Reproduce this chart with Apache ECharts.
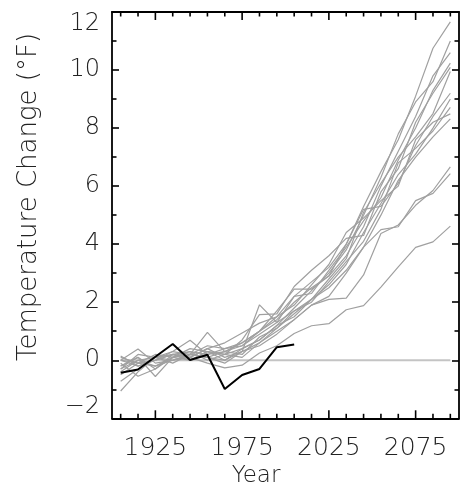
<!DOCTYPE html>
<html>
<head>
<meta charset="utf-8">
<script src="https://cdn.jsdelivr.net/npm/echarts@6/dist/echarts.min.js"></script>
<style>
html,body{margin:0;padding:0;background:#fff;}
#chart{width:462px;height:496px;}
</style>
</head>
<body>
<div id="chart"></div>
<script>
// ---- data ----
const years = [1905,1915,1925,1935,1945,1955,1965,1975,1985,1995,2005,2015,2025,2035,2045,2055,2065,2075,2085,2095];
const run01 = [0.1,-0.1,0.0,0.2,0.3,0.2,0.4,0.5,1.0,1.5,2.2,2.7,3.2,4.0,5.3,6.5,7.6,9.1,10.75,11.66];
const run02 = [-0.4,0.0,-0.2,0.1,0.0,0.3,0.2,0.4,0.7,1.2,1.8,2.4,3.0,3.8,5.0,6.3,7.8,8.9,9.6,11.0];
const run03 = [0.0,0.39,-0.1,0.0,0.2,0.1,0.3,0.6,1.0,1.4,2.0,2.5,2.9,3.6,4.6,6.0,7.2,8.4,9.8,10.6];
const run04 = [-0.72,-0.3,0.1,0.2,0.1,0.4,0.1,0.3,1.91,1.3,2.2,2.3,3.1,3.9,4.8,5.6,6.9,8.0,9.3,10.24];
const run05 = [-0.2,0.1,-0.56,0.1,0.3,0.0,0.2,0.7,1.57,1.6,2.54,3.1,3.6,4.2,4.3,5.8,6.6,8.2,9.2,10.09];
const run06 = [0.15,-0.2,0.0,0.3,0.69,0.2,0.3,0.2,0.8,1.1,1.6,2.1,2.6,3.3,4.4,5.4,6.4,7.1,8.0,9.0];
const run07 = [-1.06,-0.4,0.1,0.0,0.2,0.96,0.3,0.5,0.9,1.3,1.7,2.0,2.7,3.4,4.1,5.2,6.8,7.3,7.9,8.71];
const run08 = [-0.1,-0.55,-0.3,0.2,0.1,0.4,0.6,0.94,1.28,1.5,1.9,2.6,3.3,4.4,4.9,5.5,6.0,7.6,8.2,8.49];
const run09 = [-0.3,0.2,0.1,-0.1,0.2,0.1,-0.1,0.3,0.6,1.0,1.4,1.9,2.2,3.0,3.9,5.0,6.2,7.0,7.7,8.32];
const run10 = [0.0,-0.1,0.2,0.1,0.4,0.3,0.0,0.4,0.7,1.2,1.5,2.1,2.8,3.5,5.1,6.1,7.0,7.7,8.5,9.95];
const run11 = [-0.3,0.0,0.1,0.3,0.2,0.5,0.4,0.6,1.0,1.7,2.45,2.45,2.9,4.0,5.2,5.3,6.1,7.4,8.4,9.2];
const run12 = [-0.2,0.1,-0.3,0.1,0.2,0.1,0.0,0.3,0.5,0.9,1.4,1.9,2.1,2.14,2.94,4.37,4.66,5.34,5.85,6.66];
const run13 = [0.0,-0.2,0.0,0.2,0.0,0.3,0.2,0.1,0.6,1.1,1.7,2.1,2.5,3.1,3.9,4.5,4.6,5.5,5.75,6.43];
const run14 = [-0.5,-0.1,-0.2,0.0,0.1,-0.1,-0.26,-0.17,0.25,0.5,0.92,1.19,1.26,1.74,1.88,2.52,3.22,3.89,4.08,4.62];
const obsYears = [1905,1915,1925,1935,1945,1955,1965,1975,1985,1995,2005];
const observed = [-0.43,-0.32,0.12,0.56,0.01,0.19,-0.99,-0.51,-0.30,0.45,0.54];
const zeroYears = [1905,2095];
const zeroValues = [0,0];
const xLabelYears = [1925,1975,2025,2075];
const majorTickYears = [1925,1975,2025,2075];
const minorTickYears = [1905,1915,1935,1945,1955,1965,1985,1995,2005,2015,2035,2045,2055,2065,2085,2095];
const yTitle = 'Temperature Change (°F)';
const xTitle = 'Year';

const runs = [run01,run02,run03,run04,run05,run06,run07,run08,run09,run10,run11,run12,run13,run14];

// ---- chart ----
const FONT = 'DejaVu Sans';
const chart = echarts.init(document.getElementById('chart'));
const X_MIN = 1900, X_MAX = 2100, Y_MIN = -2, Y_MAX = 12;

const series = [];
series.push({
  type: 'line', data: zeroYears.map((y, i) => [y, zeroValues[i]]),
  symbol: 'none', silent: true, z: 1,
  lineStyle: { color: '#c4c4c4', width: 2 }
});
runs.forEach(r => series.push({
  type: 'line', data: years.map((y, i) => [y, r[i]]),
  symbol: 'none', silent: true, z: 2,
  lineStyle: { color: '#a0a0a0', width: 1.2 }
}));
series.push({
  type: 'line', data: obsYears.map((y, i) => [y, observed[i]]),
  symbol: 'none', silent: true, z: 3,
  lineStyle: { color: '#000', width: 2 }
});
const tickData = majorTickYears.map(y => [y, 1]).concat(minorTickYears.map(y => [y, 0]));
series.push({
  type: 'custom', silent: true, z: 5, clip: false,
  data: tickData,
  renderItem: function (params, api) {
    const x = api.value(0);
    const len = api.value(1) ? 8 : 4.5;
    const b = api.coord([x, Y_MIN]);
    const t = api.coord([x, Y_MAX]);
    const st = { stroke: '#000', lineWidth: 1.6 };
    return { type: 'group', children: [
      { type: 'line', shape: { x1: b[0], y1: b[1], x2: b[0], y2: b[1] - len }, style: st },
      { type: 'line', shape: { x1: t[0], y1: t[1], x2: t[0], y2: t[1] + len }, style: st }
    ]};
  }
});

const yAxisCommon = {
  type: 'value', min: Y_MIN, max: Y_MAX, interval: 2,
  axisLine: { show: true, lineStyle: { color: '#000', width: 1.8 } },
  axisTick: { show: true, inside: true, length: 7, lineStyle: { color: '#000', width: 1.6 } },
  minorTick: { show: true, splitNumber: 2, length: 4.5, lineStyle: { color: '#000', width: 1.6 } },
  splitLine: { show: false }, minorSplitLine: { show: false }
};

chart.setOption({
  animation: false,
  backgroundColor: '#fff',
  grid: { left: 112, right: 1.5, top: 12, bottom: 77.7, containLabel: false },
  xAxis: [{
    type: 'value', min: X_MIN, max: X_MAX, interval: 25, position: 'bottom',
    axisLine: { show: true, onZero: false, lineStyle: { color: '#000', width: 1.8 } },
    axisTick: { show: false },
    splitLine: { show: false },
    axisLabel: {
      margin: 18, fontFamily: FONT, fontSize: 25, fontWeight: 200, color: '#222',
      formatter: v => xLabelYears.indexOf(v) >= 0 ? String(v) : ''
    }
  }, {
    type: 'value', min: X_MIN, max: X_MAX, position: 'top',
    axisLine: { show: true, onZero: false, lineStyle: { color: '#000', width: 1.8 } },
    axisTick: { show: false }, axisLabel: { show: false }, splitLine: { show: false }
  }],
  yAxis: [Object.assign({}, yAxisCommon, {
    position: 'left',
    axisLabel: {
      margin: 12, fontFamily: FONT, fontSize: 24, fontWeight: 200, color: '#222',
      verticalAlignMaxLabel: 'top', verticalAlignMinLabel: 'bottom',
      formatter: v => String(v).replace('-', '\u2212')
    }
  }), Object.assign({}, yAxisCommon, {
    position: 'right', axisLabel: { show: false }
  })],
  graphic: [{
    type: 'text', x: 29, y: 197, rotation: Math.PI / 2, silent: true,
    style: { text: yTitle, font: '200 26px "DejaVu Sans"', fill: '#222', align: 'center', verticalAlign: 'middle' }
  }, {
    type: 'text', x: 256, y: 476, silent: true,
    style: { text: xTitle, font: '200 23px "DejaVu Sans"', fill: '#222', align: 'center', verticalAlign: 'middle' }
  }],
  series: series
});
</script>
</body>
</html>
